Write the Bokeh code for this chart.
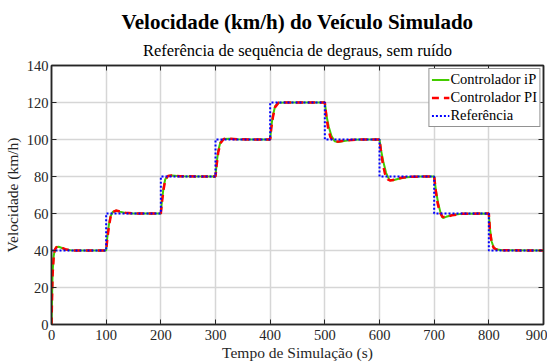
from bokeh.plotting import figure
from bokeh.models import LinearAxis, Title, Legend, LegendItem, FixedTicker, Range1d
from bokeh.embed import file_html
from bokeh.resources import INLINE

# Reference step sequence
step_times = [0, 100, 200, 300, 400, 500, 600, 700, 800, 900]
ref_levels = [40, 60, 80, 100, 120, 100, 80, 60, 40]

# Controller iP (green) response
t_ip = [0, 1, 2, 4, 6, 9, 13, 18, 25, 35, 50, 100,
        102, 105, 108, 112, 118, 125, 135, 150, 200,
        202, 205, 208, 213, 220, 235, 300,
        302, 305, 309, 315, 325, 340, 400,
        402, 405, 409, 415, 430, 500,
        503, 507, 512, 518, 525, 535, 550, 570, 600,
        603, 607, 612, 618, 625, 635, 650, 670, 700,
        703, 707, 712, 716, 722, 735, 750, 800,
        802, 805, 809, 815, 825, 900]
v_ip = [0, 15, 28, 37, 40.5, 41.8, 42.0, 41.5, 40.6, 40.1, 40, 40,
        47, 54, 58.5, 60.8, 61.5, 61.0, 60.3, 60, 60,
        67, 74, 78.5, 80.3, 80.5, 80.1, 80,
        87, 94, 98.5, 100.3, 100.4, 100.1, 100,
        107, 113, 118, 119.8, 120, 120,
        113, 107, 102, 99.0, 98.6, 99.2, 99.8, 100, 100,
        94, 88, 82, 78.2, 78.0, 78.8, 79.6, 80, 80,
        73, 66, 60, 57.6, 58.2, 59.3, 59.8, 60,
        52, 45, 41.5, 40.5, 40.1, 40]

# Controller PI (red) response
t_pi = [0, 1, 2, 4, 6, 9, 13, 18, 25, 35, 50, 100,
        102, 105, 108, 112, 118, 125, 135, 150, 200,
        202, 205, 208, 213, 220, 235, 300,
        302, 305, 309, 315, 325, 340, 400,
        402, 405, 409, 415, 430, 500,
        503, 506, 510, 515, 520, 528, 540, 560, 600,
        603, 606, 610, 615, 620, 628, 640, 660, 700,
        703, 706, 710, 715, 721, 732, 750, 800,
        802, 805, 809, 815, 825, 900]
v_pi = [0, 14, 27, 36.5, 40.3, 41.8, 42.1, 41.6, 40.7, 40.1, 40, 40,
        46, 53, 58, 60.7, 61.6, 61.1, 60.4, 60, 60,
        66, 73, 78, 80.3, 80.5, 80.1, 80,
        86, 93, 98, 100.3, 100.5, 100.1, 100,
        106, 112, 117.5, 119.8, 120, 120,
        112, 106, 101.5, 99.2, 98.7, 99.0, 99.6, 100, 100,
        93, 87, 81.5, 78.5, 77.8, 78.3, 79.3, 79.9, 80,
        72, 66, 61, 58.2, 58.0, 59.0, 59.8, 60,
        51, 44.5, 41.3, 40.4, 40.1, 40]

# Build reference step polyline from the levels
t_ref, v_ref = [], []
for i, lvl in enumerate(ref_levels):
    t_ref += [step_times[i], step_times[i + 1]]
    v_ref += [lvl, lvl]

x_ticks = [0, 100, 200, 300, 400, 500, 600, 700, 800, 900]
y_ticks = [0, 20, 40, 60, 80, 100, 120, 140]

FONT = "Liberation Serif"
DARK = "#262626"

p = figure(output_backend="svg", toolbar_location=None,
           x_range=Range1d(0, 900), y_range=Range1d(0, 140),
           frame_width=492, frame_height=259,
           min_border_left=43, min_border_right=4, min_border_top=65, min_border_bottom=39)

p.background_fill_color = "white"
p.border_fill_color = "white"
p.outline_line_color = DARK
p.outline_line_width = 1.5

p.xgrid.ticker = FixedTicker(ticks=x_ticks)
p.ygrid.ticker = FixedTicker(ticks=y_ticks)
p.xgrid.grid_line_color = "#d6d6d6"
p.ygrid.grid_line_color = "#d6d6d6"
p.xgrid.grid_line_width = 1.5
p.ygrid.grid_line_width = 1.5

def style_axis(ax, show_labels=True):
    ax.axis_line_color = DARK
    ax.axis_line_width = 1.5
    ax.major_tick_in = 5
    ax.major_tick_out = 0
    ax.major_tick_line_color = DARK
    ax.major_tick_line_width = 1
    ax.minor_tick_line_color = None
    ax.major_label_text_font = FONT
    ax.major_label_text_font_size = "14.5px"
    ax.major_label_text_color = DARK if show_labels else None
    ax.axis_label_text_font = FONT
    ax.axis_label_text_font_size = "15.5px"
    ax.axis_label_text_font_style = "normal"
    ax.axis_label_text_color = DARK

p.xaxis.ticker = FixedTicker(ticks=x_ticks)
p.yaxis.ticker = FixedTicker(ticks=y_ticks)
p.xaxis.axis_label = "Tempo de Simulação (s)"
p.yaxis.axis_label = "Velocidade (km/h)"
style_axis(p.xaxis[0])
style_axis(p.yaxis[0])
p.xaxis.axis_label_text_font = FONT
p.yaxis.axis_label_text_font = FONT
p.xaxis.axis_label_standoff = 1
p.yaxis.axis_label_standoff = 3
p.xaxis.major_label_standoff = 5
p.yaxis.major_label_standoff = 3

top = LinearAxis(ticker=FixedTicker(ticks=x_ticks))
style_axis(top, show_labels=False)
top.major_label_text_font_size = "0px"
top.major_label_standoff = 0
p.add_layout(top, "above")
right = LinearAxis(ticker=FixedTicker(ticks=y_ticks))
style_axis(right, show_labels=False)
right.major_label_text_font_size = "0px"
right.major_label_standoff = 0
p.add_layout(right, "right")

# titles (subtitle first -> closer to plot)
p.add_layout(Title(text="Referência de sequência de degraus, sem ruído", align="center",
                   text_font=FONT, text_font_size="16.5px", text_font_style="normal",
                   text_color="black", standoff=11), "above")
p.add_layout(Title(text="Velocidade (km/h) do Veículo Simulado", align="center",
                   text_font=FONT, text_font_size="21px", text_font_style="bold",
                   text_color="black", standoff=0), "above")

r_ip = p.line(t_ip, v_ip, line_color="#44cc00", line_width=2)
r_pi = p.line(t_pi, v_pi, line_color="#ff0000", line_width=2.5, line_dash="7 5")
r_ref = p.line(t_ref, v_ref, line_color="#0000ff", line_width=2, line_dash="2 2")

legend = Legend(items=[LegendItem(label="Controlador iP", renderers=[r_ip]),
                       LegendItem(label="Controlador PI", renderers=[r_pi]),
                       LegendItem(label="Referência", renderers=[r_ref])],
                location="top_right")
legend.label_text_font = FONT
legend.label_text_font_size = "14.5px"
legend.label_text_color = "black"
legend.border_line_color = DARK
legend.border_line_width = 1
legend.background_fill_alpha = 1
legend.glyph_width = 18
legend.glyph_height = 17
legend.label_height = 17
legend.label_standoff = 1
legend.spacing = 1
legend.padding = 2
legend.margin = 3
p.add_layout(legend)

open("out.html", "w").write(file_html(p, INLINE))
